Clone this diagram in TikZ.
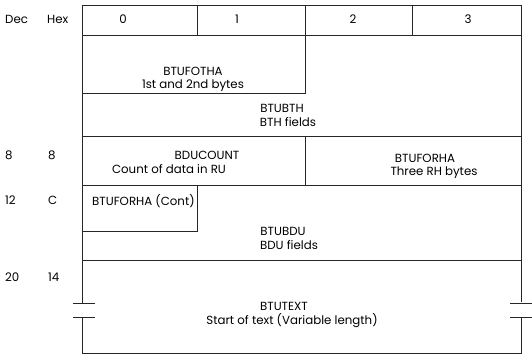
\documentclass[tikz,border=0pt]{standalone}
\usepackage{fontspec}
\setmainfont{Poppins}
\usetikzlibrary{positioning}

\begin{document}
\begin{tikzpicture}[x=1pt,y=-1pt,
    rl/.style={line width=0.9pt,black!85},
    fld/.style={anchor=base,inner sep=0pt,font=\fontsize{11.8}{13}\selectfont},
    off/.style={anchor=base west,inner sep=0pt,font=\fontsize{11.8}{13}\selectfont}]
  \useasboundingbox (0,0) rectangle (532,355);
  % offsets
  \node[off] (dec) at (5,24) {Dec};
  \node[off] (hex) at (47,24) {Hex};
  \foreach \d/\h/\y in {8/8/160,12/C/205,20/14/281} {
    \node[off] (dec\d) at (5,\y) {\d};
    \node[off] (hex\h) at (48,\y) {\h};
  }
  % frame, broken at the bottom
  \draw[rl] (82,303) -- (82,5) -- (521,5) -- (521,302);
  \draw[rl] (82,317) -- (82,353) -- (521,353) -- (521,317);
  \foreach \y in {303,317} {
    \draw[rl] (73,\y) -- (95,\y);
    \draw[rl] (510,\y) -- (532,\y);
  }
  \foreach \y in {35,136,185,260} \draw[rl] (82,\y) -- (521,\y);
  \foreach \x in {197,305,412} \draw[rl] (\x,5) -- (\x,35);
  \foreach \n/\x in {0/123,1/237,2/353,3/468} \node[fld] (byte\n) at (\x,24) {\n};
  % inner boxes
  \draw[rl] (82,93) -- (305,93) -- (305,35);
  \draw[rl] (305,136) -- (305,185);
  \draw[rl] (82,231) -- (197,231) -- (197,185);
  % fields
  \node[fld] (fotha) at (193,76) {BTUFOTHA};
  \node[fld] (fothad) at (193,89) {1st and 2nd bytes};
  \node[fld] (bth) at (282,113) {BTUBTH};
  \node[fld] (bthd) at (288,127) {BTH fields};
  \node[fld] (count) at (207,160) {BDUCOUNT};
  \node[fld] (countd) at (169,174) {Count of data in RU};
  \node[fld] (forha) at (425,163) {BTUFORHA};
  \node[fld] (forhad) at (434,176) {Three RH bytes};
  \node[off] (forhac) at (92,206) {BTUFORHA (Cont)};
  \node[fld] (bdu) at (283,235) {BTUBDU};
  \node[fld] (bdud) at (289,249) {BDU fields};
  \node[fld] (text) at (284,310) {BTUTEXT};
  \node[fld] (textd) at (292,324) {Start of text (Variable length)};
\end{tikzpicture}
\end{document}
